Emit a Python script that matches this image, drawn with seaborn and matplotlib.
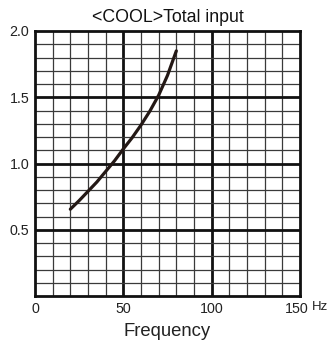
import matplotlib
matplotlib.use("Agg")
import matplotlib.pyplot as plt
import matplotlib.transforms as mtransforms
import seaborn as sns
import pandas as pd
import numpy as np

freq = [20, 25, 30, 35, 40, 45, 50, 55, 60, 65, 70, 75, 80]
power = [0.655, 0.72, 0.79, 0.86, 0.94, 1.02, 1.11, 1.195, 1.29, 1.395, 1.515, 1.665, 1.85]
x_ticks = [0, 50, 100, 150]
x_labels = ["0", "50", "100", "150"]
y_ticks = [0.5, 1.0, 1.5, 2.0]
y_labels = ["0.5", "1.0", "1.5", "2.0"]

sns.set_theme(style="white")
plt.rcParams['font.family'] = ['Liberation Sans', 'DejaVu Sans']

fig = plt.figure(figsize=(3.33, 3.43), dpi=100)
ax = fig.add_axes([35/333, 47/343, 265/333, 265/343])

df = pd.DataFrame({"freq": freq, "power": power})

# grid
for xv in np.arange(10, 150, 10):
    major = xv % 50 == 0
    ax.axvline(xv, color="#111111" if major else "#3a3a3a", lw=2.0 if major else 0.9, zorder=1)
for i in range(1, 20):
    yv = i / 10
    major = i % 5 == 0
    ax.axhline(yv, color="#111111" if major else "#3a3a3a", lw=2.0 if major else 0.9, zorder=1)

sns.lineplot(data=df, x="freq", y="power", ax=ax, color="#231815", lw=2.3, zorder=3)

ax.set_xlim(0, 150)
ax.set_ylim(0, 2.0)
ax.set_xticks(x_ticks)
ax.set_xticklabels(x_labels, fontsize=10.3)
ax.set_yticks(y_ticks)
ax.set_yticklabels(y_labels, fontsize=10.3)
ax.tick_params(length=0, colors="#222222")
ax.tick_params(axis="y", pad=4)
ax.tick_params(axis="x", pad=4)
for s in ax.spines.values():
    s.set_color("#111111")
    s.set_linewidth(2.0)
ax.set_xlabel("Frequency", fontsize=13.3, color="#222222", labelpad=5)
ax.set_ylabel("")
ax.set_title("<COOL>Total input", fontsize=12.8, color="#111111", pad=6.5)

# shift 150 label slightly left and add unit
lbls = ax.get_xticklabels()
off = mtransforms.ScaledTranslation(-3/100, 0, fig.dpi_scale_trans)
lbls[-1].set_transform(lbls[-1].get_transform() + off)
ax.text(1.045, -0.0205, "Hz", transform=ax.transAxes, fontsize=9.5, va="top", ha="left", color="#222222")

fig.savefig("out.png", dpi=100)
